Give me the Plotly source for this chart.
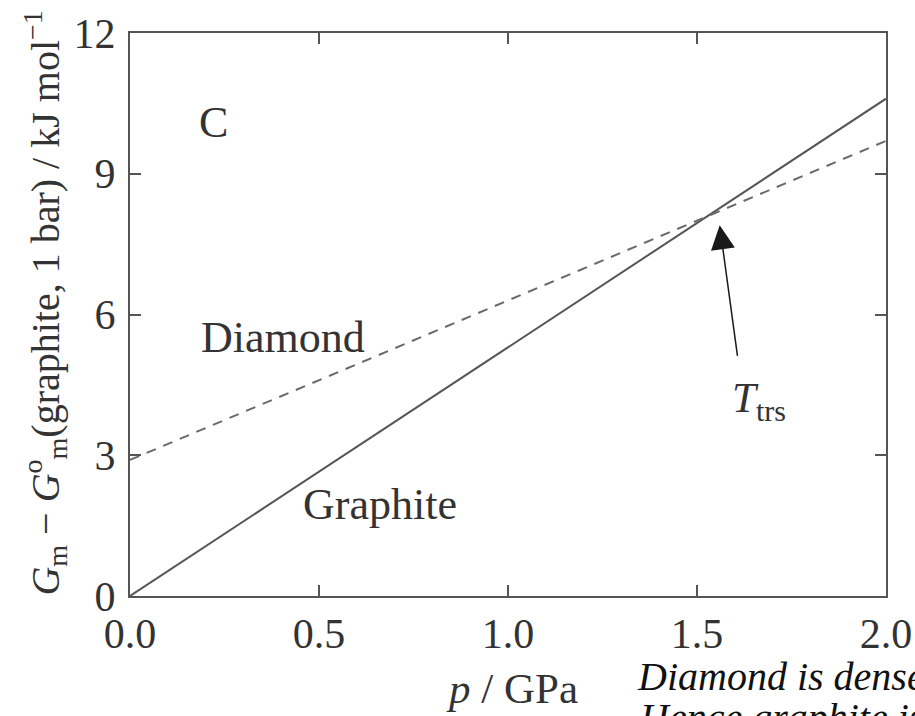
import plotly.graph_objects as go

# Molar Gibbs energy of carbon phases relative to graphite at 1 bar
pressure_gpa = [0.0, 2.0]
graphite_kj = [0.0, 10.6]
diamond_kj = [2.9, 9.7]

x_tick_vals = [0.0, 0.5, 1.0, 1.5, 2.0]
x_tick_text = ["0.0", "0.5", "1.0", "1.5", "2.0"]
y_tick_vals = [0, 3, 6, 9, 12]
y_tick_text = ["0", "3", "6", "9", "12"]

# Transition point (where the two lines cross) marked with an arrow
trs_p = 1.56
trs_g = 7.9

SERIF = "Liberation Serif, Times New Roman, serif"
INK = "#333333"
LINE = "#555555"

fig = go.Figure()
fig.add_trace(go.Scatter(
    x=pressure_gpa, y=graphite_kj, mode="lines",
    line=dict(color=LINE, width=2), name="Graphite", hoverinfo="skip",
))
fig.add_trace(go.Scatter(
    x=pressure_gpa, y=diamond_kj, mode="lines",
    line=dict(color="#6a6a6a", width=2, dash="10px,8px"), name="Diamond",
    hoverinfo="skip",
))

axis_common = dict(
    showgrid=False, zeroline=False, showline=True, linecolor=LINE,
    linewidth=2, mirror="ticks", ticks="inside", ticklen=11,
    tickwidth=1.5, tickcolor=LINE, automargin=False,
    tickfont=dict(family=SERIF, size=42, color=INK),
)
fig.update_xaxes(range=[0, 2.0], tickvals=x_tick_vals, ticktext=x_tick_text,
                 ticklabelstandoff=0, **axis_common)
fig.update_yaxes(range=[0, 12], tickvals=y_tick_vals, ticktext=y_tick_text,
                 ticklabelstandoff=4, **axis_common)

labels = [
    dict(x=0.22, y=10.1, text="C"),
    dict(x=0.404, y=5.5, text="Diamond"),
    dict(x=0.662, y=1.95, text="Graphite"),
]
for lab in labels:
    fig.add_annotation(x=lab["x"], y=lab["y"], text=lab["text"], showarrow=False,
                       font=dict(family=SERIF, size=44, color=INK),
                       xanchor="center", yanchor="middle")

# Arrow pointing at the transition
fig.add_annotation(x=trs_p, y=trs_g, ax=18, ay=132, text="", showarrow=True,
                   arrowhead=2, arrowsize=3.2, arrowwidth=1.5, arrowcolor="#1a1a1a",
                   standoff=0)
fig.add_annotation(x=1.665, y=4.15, text="<i>T</i><sub>trs</sub>", showarrow=False,
                   font=dict(family=SERIF, size=43, color=INK),
                   xanchor="center", yanchor="middle")

# Axis titles
fig.add_annotation(xref="paper", yref="paper", x=0.505, y=-0.165,
                   text="<i>p</i> / GPa", showarrow=False,
                   font=dict(family=SERIF, size=43, color=INK),
                   xanchor="center", yanchor="middle")
fig.add_annotation(xref="paper", yref="paper", x=-0.112, y=0.52, textangle=-90,
                   text="<i>G</i><sub>m</sub> − <i>G</i><sup>o</sup><sub>m</sub>"
                        "(graphite, 1 bar) / kJ mol<sup>−1</sup>",
                   showarrow=False,
                   font=dict(family=SERIF, size=40, color=INK),
                   xanchor="center", yanchor="middle")

# Caption text running off the lower right edge
fig.add_annotation(xref="paper", yref="paper", x=0.668, y=-0.1,
                   text="<i>Diamond is denser than graphite.</i>", showarrow=False,
                   font=dict(family=SERIF, size=40, color="#111111"),
                   xanchor="left", yanchor="top")
fig.add_annotation(xref="paper", yref="paper", x=0.67, y=-0.172,
                   text="<i>Hence graphite is more stable at low pressure.</i>",
                   showarrow=False,
                   font=dict(family=SERIF, size=40, color="#111111"),
                   xanchor="left", yanchor="top")

fig.update_layout(
    width=915, height=716,
    margin=dict(l=130, r=29, t=33, b=120, autoexpand=False),
    paper_bgcolor="white", plot_bgcolor="white",
    showlegend=False,
)

fig.write_html("out.html")
